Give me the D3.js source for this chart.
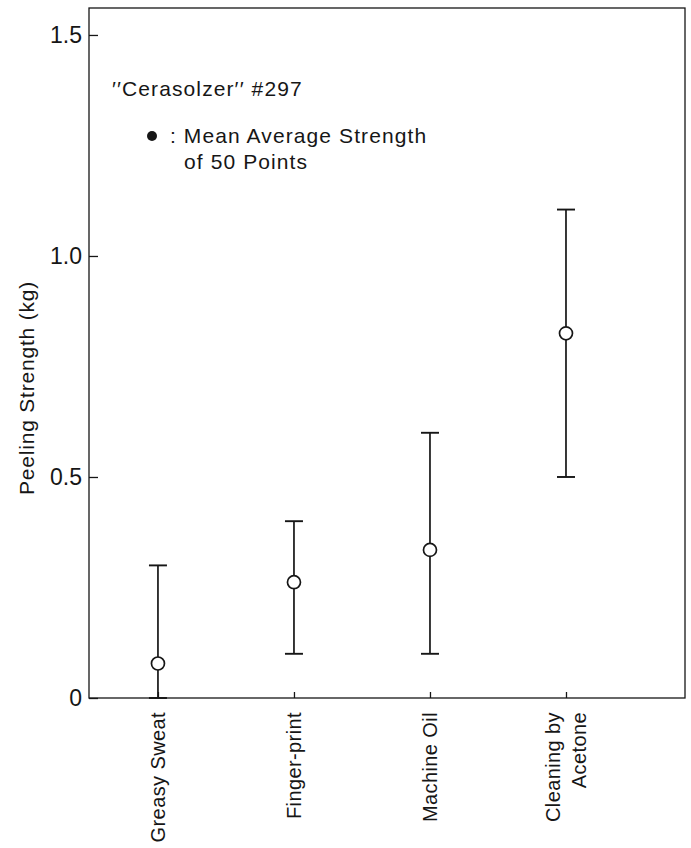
<!DOCTYPE html>
<html>
<head>
<meta charset="utf-8">
<script src="https://cdn.jsdelivr.net/npm/d3@7"></script>
<style>
  html, body { margin: 0; padding: 0; background: #fff; }
  svg { display: block; font-family: "Liberation Sans", Arial, Helvetica, sans-serif; }
</style>
</head>
<body>
<svg id="chart" width="691" height="848"></svg>
<script>
// Contamination conditions and measured peeling strength (kg)
const categories = ["Greasy Sweat", "Finger-print", "Machine Oil", "Cleaning by\nAcetone"];
const meanValues = [0.078, 0.262, 0.335, 0.825];
const lowValues  = [0.0, 0.10, 0.10, 0.50];
const highValues = [0.30, 0.40, 0.60, 1.105];
const yTicks = [0, 0.5, 1.0, 1.5];
const yTickLabels = ["0", "0.5", "1.0", "1.5"];

const ink = "#161616";
const svg = d3.select("#chart");

const plot = { left: 89, right: 685, top: 8, bottom: 698 };

const x = d3.scaleLinear()
  .domain([-0.507, 3.875])
  .range([plot.left, plot.right]);

const y = d3.scaleLinear()
  .domain([0, 1.561])
  .range([plot.bottom, plot.top]);

// frame
svg.append("rect")
  .attr("x", plot.left).attr("y", plot.top)
  .attr("width", plot.right - plot.left)
  .attr("height", plot.bottom - plot.top)
  .attr("fill", "none").attr("stroke", ink).attr("stroke-width", 1.3);

// y axis with inward ticks
const yAxis = d3.axisRight(y)
  .tickValues(yTicks)
  .tickSize(9)
  .tickFormat("");
const gy = svg.append("g").attr("transform", `translate(${plot.left},0)`).call(yAxis);
gy.select(".domain").remove();
gy.selectAll(".tick line").attr("stroke", ink).attr("stroke-width", 1.3);

svg.append("g").selectAll("text")
  .data(yTicks)
  .join("text")
  .attr("x", 82)
  .attr("y", d => y(d))
  .attr("dy", "0.36em")
  .attr("text-anchor", "end")
  .attr("font-size", 23)
  .attr("fill", ink)
  .text((d, i) => yTickLabels[i]);

// x axis: short upward ticks at each condition
const xAxis = d3.axisTop(x)
  .tickValues(d3.range(categories.length))
  .tickSize(6)
  .tickFormat("");
const gx = svg.append("g").attr("transform", `translate(0,${plot.bottom})`).call(xAxis);
gx.select(".domain").remove();
gx.selectAll(".tick line").attr("stroke", ink).attr("stroke-width", 1.3);

// rotated category labels
const labelG = svg.append("g");
categories.forEach((c, i) => {
  const lines = c.split("\n");
  const lh = 26;
  lines.forEach((ln, j) => {
    const cx = x(i) + (j - (lines.length - 1) / 2) * lh;
    labelG.append("text")
      .attr("transform", `translate(${cx},712) rotate(-90)`)
      .attr("dy", "0.36em")
      .attr("text-anchor", "end")
      .attr("font-size", 20)
      .attr("letter-spacing", 0.4)
      .attr("fill", ink)
      .text(ln);
  });
});

// y axis title
svg.append("text")
  .attr("transform", `translate(34,388) rotate(-90)`)
  .attr("text-anchor", "middle")
  .attr("font-size", 21)
  .attr("letter-spacing", 0.8)
  .attr("fill", ink)
  .text("Peeling Strength (kg)");

// error bars
const capHalf = 9;
const bars = svg.append("g").selectAll("g")
  .data(categories.map((c, i) => ({ i, mean: meanValues[i], lo: lowValues[i], hi: highValues[i] })))
  .join("g");

bars.append("line")
  .attr("x1", d => x(d.i)).attr("x2", d => x(d.i))
  .attr("y1", d => y(d.lo)).attr("y2", d => y(d.hi))
  .attr("stroke", ink).attr("stroke-width", 1.7);
bars.append("line")
  .attr("x1", d => x(d.i) - capHalf).attr("x2", d => x(d.i) + capHalf)
  .attr("y1", d => y(d.hi)).attr("y2", d => y(d.hi))
  .attr("stroke", ink).attr("stroke-width", 1.9);
bars.append("line")
  .attr("x1", d => x(d.i) - capHalf).attr("x2", d => x(d.i) + capHalf)
  .attr("y1", d => y(d.lo)).attr("y2", d => y(d.lo))
  .attr("stroke", ink).attr("stroke-width", 1.9);
bars.append("circle")
  .attr("cx", d => x(d.i)).attr("cy", d => y(d.mean))
  .attr("r", 6.5)
  .attr("fill", "#fff").attr("stroke", ink).attr("stroke-width", 1.7);

// legend
const legend = svg.append("g").attr("fill", ink).attr("font-size", 21).attr("letter-spacing", 1.1);
legend.append("text").attr("x", 112).attr("y", 96).text("\u2032\u2032Cerasolzer\u2032\u2032 #297");
legend.append("circle").attr("cx", 152).attr("cy", 136).attr("r", 5).attr("fill", ink);
legend.append("text").attr("x", 170).attr("y", 143).text(": Mean Average Strength");
legend.append("text").attr("x", 184).attr("y", 169).text("of 50 Points");
</script>
</body>
</html>
